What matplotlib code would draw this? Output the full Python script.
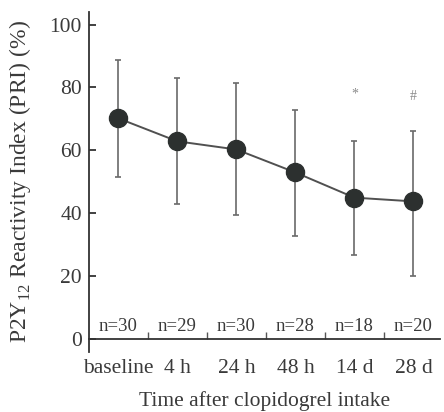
import matplotlib
matplotlib.use("Agg")
import matplotlib.pyplot as plt
import numpy as np

# Data
times = ["baseline", "4 h", "24 h", "48 h", "14 d", "28 d"]
pri_mean = [70.2, 62.9, 60.3, 53.0, 45.0, 43.8]
pri_upper = [88.7, 82.9, 81.3, 73.0, 62.9, 66.3]
pri_lower = [51.4, 42.9, 39.4, 32.7, 26.7, 20.0]
n_counts = [30, 29, 30, 28, 18, 20]
sig_marks = ["", "", "", "", "*", "#"]
sig_level = [0, 0, 0, 0, 77.8, 77.2]

plt.rcParams["font.family"] = ["Liberation Serif", "DejaVu Serif"]
plt.rcParams["mathtext.fontset"] = "custom"
plt.rcParams["mathtext.rm"] = "Liberation Serif"

text_col = "#3a3a3a"
x = np.arange(len(times))
mean = np.array(pri_mean)
yerr = [mean - np.array(pri_lower), np.array(pri_upper) - mean]

fig = plt.figure(figsize=(4.44, 4.12), dpi=100)
ax = fig.add_axes([0.2, 0.146, 0.791, 0.825])

ax.errorbar(x, mean, yerr=yerr, fmt="none", ecolor="#6a6a6a", elinewidth=1.2,
            capsize=2.5, capthick=1.2, zorder=2)
ax.plot(x, mean, color="#505050", lw=1.4, marker="o", markersize=13,
        markerfacecolor="#2c302f", markeredgecolor="#2c302f", zorder=3)

for xi, n in zip(x, n_counts):
    ax.text(xi, 1.5, f"n={n}", ha="center", va="bottom", fontsize=13.5,
            color=text_col)

for xi, m, lvl in zip(x, sig_marks, sig_level):
    if m:
        ax.text(xi, lvl, m, ha="center", va="center", fontsize=10, color="#8a8a8a")

ax.set_xlim(-0.5, 5.45)
ax.set_ylim(-4, 104)
ax.spines["bottom"].set_position(("data", 0))
ax.spines["top"].set_visible(False)
ax.spines["right"].set_visible(False)
for s in ("left", "bottom"):
    ax.spines[s].set_color("#333333")
    ax.spines[s].set_linewidth(1.3)

ax.set_yticks([0, 20, 40, 60, 80, 100])
ax.set_xticks(x)
ax.set_xticklabels(times)
ax.set_xticks(x[:-1] + 0.5, minor=True)
ax.tick_params(axis="y", direction="in", length=5, width=1.3, labelsize=15.5,
               colors="#333333", labelcolor=text_col, pad=5)
ax.tick_params(axis="x", which="major", length=0, labelsize=15.5,
               labelcolor=text_col, pad=14)
ax.tick_params(axis="x", which="minor", direction="in", length=5, width=1,
               colors="#555555")

ax.set_ylabel("P2Y$_{12}$ Reactivity Index (PRI) (%)", fontsize=17,
              color=text_col, labelpad=12)
ax.set_xlabel("Time after clopidogrel intake", fontsize=15.5, color=text_col,
              labelpad=10)

fig.savefig("out.png", dpi=100)
